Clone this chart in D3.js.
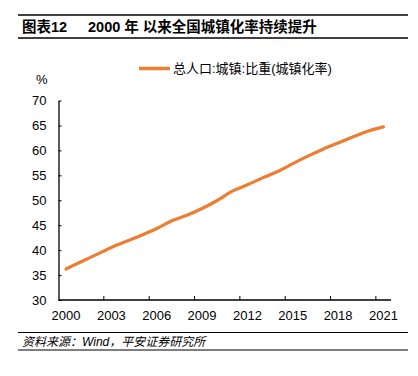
<!DOCTYPE html>
<html lang="zh">
<head>
<meta charset="utf-8">
<script src="https://d3js.org/d3.v7.min.js"></script>
<style>
  body { margin: 0; background: #fff; }
  text { font-family: "Liberation Sans", Arial, "Noto Sans CJK SC", sans-serif; fill: #000; }
  .cjk { font-family: "Liberation Sans", "Noto Sans CJK SC", sans-serif; }
</style>
</head>
<body>
<svg width="418" height="376"></svg>
<script>
// data
var years = ["2000","2001","2002","2003","2004","2005","2006","2007","2008","2009","2010",
             "2011","2012","2013","2014","2015","2016","2017","2018","2019","2020","2021"];
var urbanRate = [36.22, 37.66, 39.09, 40.53, 41.76, 42.99, 44.34, 45.89, 46.99, 48.34, 49.95,
                 51.83, 53.10, 54.49, 55.75, 57.33, 58.84, 60.24, 61.50, 62.71, 63.89, 64.72];
var yTicks = [30, 35, 40, 45, 50, 55, 60, 65, 70];
var xLabels = ["2000","2003","2006","2009","2012","2015","2018","2021"];
var seriesName = "总人口:城镇:比重(城镇化率)";

var svg = d3.select("svg");
var orange = "#ED7D31";

// title block
svg.append("line").attr("x1", 18).attr("x2", 408).attr("y1", 15).attr("y2", 15)
  .attr("stroke", "#000").attr("stroke-width", 1.5);
svg.append("line").attr("x1", 18).attr("x2", 408).attr("y1", 38).attr("y2", 38)
  .attr("stroke", "#000").attr("stroke-width", 1.5);
svg.append("text").attr("class", "cjk").attr("x", 22).attr("y", 32)
  .attr("font-size", "14.5px").attr("font-weight", "bold").text("图表12");
svg.append("text").attr("class", "cjk").attr("x", 88).attr("y", 32)
  .attr("font-size", "14.5px").attr("font-weight", "bold").text("2000 年 以来全国城镇化率持续提升");

// scales
var plotL = 58.5, plotR = 391, plotT = 100.5, plotB = 300;
var x = d3.scaleBand().domain(years).range([plotL, plotR]);
var y = d3.scaleLinear().domain([30, 70]).range([plotB, plotT]);

// y axis
var yAxis = svg.append("g").attr("transform", "translate(" + plotL + ",0)")
  .call(d3.axisLeft(y).tickValues(yTicks).tickSizeInner(-3).tickSizeOuter(0).tickPadding(12));
yAxis.selectAll("text").attr("font-size", "13px").attr("font-family", "Liberation Sans, Arial, sans-serif");
yAxis.selectAll(".tick line").attr("stroke", "#000");
yAxis.select(".domain").attr("stroke", "#000").attr("stroke-width", 1.3);

// x axis, ticks on category boundaries every 3 years
var xg = svg.append("g").attr("transform", "translate(0," + plotB + ")");
xg.append("line").attr("x1", plotL).attr("x2", plotR).attr("stroke", "#000").attr("stroke-width", 1.3);
xLabels.forEach(function (yr, i) {
  if (i > 0) {
    var bx = x(yr);
    xg.append("line").attr("x1", bx).attr("x2", bx).attr("y1", 0).attr("y2", -4)
      .attr("stroke", "#000");
  }
  xg.append("text").attr("x", x(yr) + x.bandwidth() / 2).attr("y", 20)
    .attr("text-anchor", "middle").attr("font-size", "13px").text(yr);
});

// unit
svg.append("text").attr("x", 36).attr("y", 84).attr("font-size", "13px").text("%");

// line
var line = d3.line()
  .x(function (d, i) { return x(years[i]) + x.bandwidth() / 2; })
  .y(function (d) { return y(d); })
  .curve(d3.curveMonotoneX);
svg.append("path").datum(urbanRate).attr("d", line)
  .attr("fill", "none").attr("stroke", orange).attr("stroke-width", 3.2)
  .attr("stroke-linecap", "round");

// legend
svg.append("line").attr("x1", 139).attr("x2", 170).attr("y1", 68.5).attr("y2", 68.5)
  .attr("stroke", orange).attr("stroke-width", 3.5);
svg.append("text").attr("class", "cjk").attr("x", 173).attr("y", 73)
  .attr("font-size", "13px").text(seriesName);

// source block
svg.append("line").attr("x1", 18).attr("x2", 408).attr("y1", 332.5).attr("y2", 332.5)
  .attr("stroke", "#000").attr("stroke-width", 1.2);
svg.append("line").attr("x1", 18).attr("x2", 408).attr("y1", 350).attr("y2", 350)
  .attr("stroke", "#000").attr("stroke-width", 1.2);
svg.append("text").attr("class", "cjk").attr("x", 22).attr("y", 346)
  .attr("font-size", "12px").attr("font-style", "italic").text("资料来源：Wind，平安证券研究所");
</script>
</body>
</html>
